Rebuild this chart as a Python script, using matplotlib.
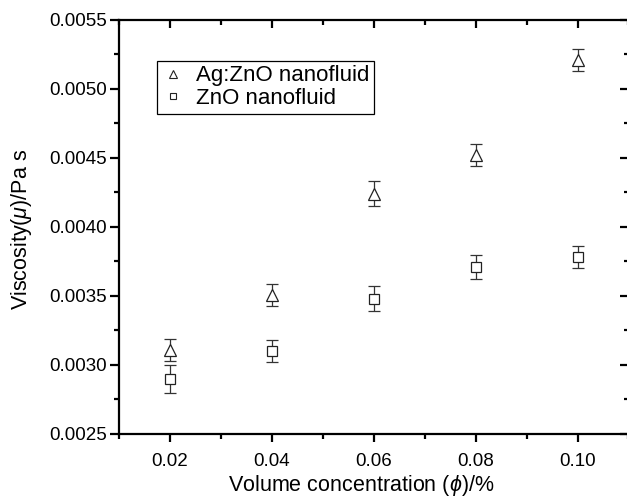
import matplotlib
matplotlib.use("Agg")
import matplotlib.pyplot as plt
from matplotlib.ticker import MultipleLocator
from matplotlib.lines import Line2D

plt.rcParams['font.family'] = ['Liberation Sans', 'DejaVu Sans']
plt.rcParams['mathtext.fontset'] = 'custom'
plt.rcParams['mathtext.rm'] = 'Liberation Sans'
plt.rcParams['mathtext.it'] = 'Liberation Sans:italic'

x = [0.02, 0.04, 0.06, 0.08, 0.10]
ag_zno = [0.00311, 0.00351, 0.00424, 0.00452, 0.00521]
ag_zno_err = [0.00008, 0.00008, 0.00009, 0.00008, 0.00008]
zno = [0.00290, 0.00310, 0.00348, 0.00371, 0.00378]
zno_err = [0.00010, 0.00008, 0.00009, 0.00009, 0.00008]
labels = ['Ag:ZnO nanofluid', 'ZnO nanofluid']

fig = plt.figure(figsize=(6.27, 5.0), dpi=100)
W, H = 627, 500
left, right, top, bottom = 119, 629, 20, 434
ax = fig.add_axes([left / W, 1 - bottom / H, (right - left) / W, (bottom - top) / H])

ec = '#333333'
ax.errorbar(x, ag_zno, yerr=ag_zno_err, fmt='^', mfc='white', mec='#222222', mew=0.9,
            ms=8.6, ecolor=ec, elinewidth=0.9, capsize=4.3, capthick=0.9, zorder=3)
ax.errorbar(x, zno, yerr=zno_err, fmt='s', mfc='white', mec='#222222', mew=0.9,
            ms=6.5, ecolor=ec, elinewidth=0.9, capsize=4.3, capthick=0.9, zorder=3)

ax.set_xlim(0.01, 0.1101)
ax.set_ylim(0.0025, 0.0055)
ax.set_xticks(x)
ax.set_xticklabels(['0.02', '0.04', '0.06', '0.08', '0.10'])
ax.set_yticks([0.0025, 0.0030, 0.0035, 0.0040, 0.0045, 0.0050, 0.0055])
ax.set_yticklabels(['0.0025', '0.0030', '0.0035', '0.0040', '0.0045', '0.0050', '0.0055'])
ax.xaxis.set_minor_locator(MultipleLocator(0.01))
ax.yaxis.set_minor_locator(MultipleLocator(0.00025))

for s in ax.spines.values():
    s.set_linewidth(1.6)

ax.tick_params(axis='both', which='major', labelsize=13.5, width=1.6)
ax.tick_params(axis='x', which='major', length=6, pad=8)
ax.tick_params(axis='y', which='major', length=6.5, pad=2)
ax.tick_params(axis='both', which='minor', width=1.6, length=3.5)
ax.tick_params(axis='x', which='both', direction='out', top=True)
ax.tick_params(axis='y', which='both', direction='out', right=True)
# top and right ticks point into the plot
for t in ax.xaxis.get_major_ticks() + ax.xaxis.get_minor_ticks():
    t.tick2line.set_marker(3)  # TICKDOWN
for t in ax.yaxis.get_major_ticks() + ax.yaxis.get_minor_ticks():
    t.tick2line.set_marker(0)  # TICKLEFT

ax.set_xlabel(r'Volume concentration ($\phi$)/%', fontsize=15.5)
ax.set_ylabel(r'Viscosity($\mu$)/Pa s', fontsize=15.5)
ax.xaxis.set_label_coords((361.5 - left) / (right - left), -(486 - bottom) / (bottom - top))
ax.yaxis.set_label_coords(-(left - 22) / (right - left), 1 - (229 - top) / (bottom - top))
ax.xaxis.label.set_va('center')
ax.yaxis.label.set_va('center')

handles = [Line2D([], [], ls='none', marker='^', ms=6, mfc='white', mec='#222222', mew=0.8),
           Line2D([], [], ls='none', marker='s', ms=4.5, mfc='white', mec='#222222', mew=0.8)]
leg = ax.legend(handles, labels, loc='upper left',
                bbox_to_anchor=((157 - left) / (right - left), 1 - (61 - top) / (bottom - top)),
                frameon=True, fancybox=False, edgecolor='black', framealpha=1,
                fontsize=16, handlelength=1.0, handletextpad=0.55, borderpad=0.2,
                labelspacing=0.08, borderaxespad=0)
leg.get_frame().set_linewidth(0.9)

fig.savefig('out.png', dpi=100)
